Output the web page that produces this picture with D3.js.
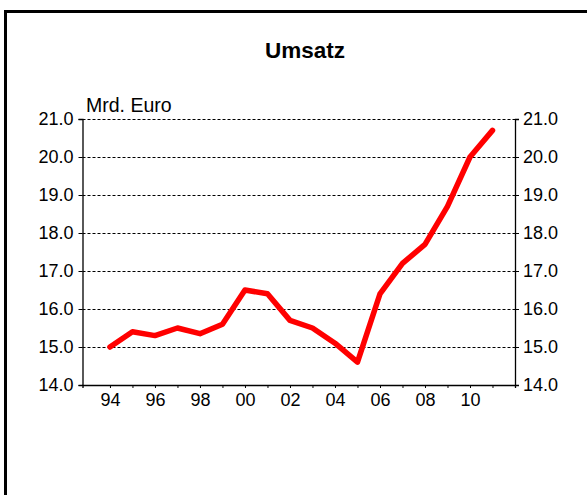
<!DOCTYPE html>
<html>
<head>
<meta charset="utf-8">
<script src="https://cdn.jsdelivr.net/npm/d3@7"></script>
<style>
  body { margin: 0; background: #fff; }
  svg text { font-family: "Liberation Sans", Arial, sans-serif; fill: #000; }
</style>
</head>
<body>
<div id="chart"></div>
<script>
// data (Mrd. Euro)
var years = [1994, 1995, 1996, 1997, 1998, 1999, 2000, 2001, 2002, 2003, 2004, 2005, 2006, 2007, 2008, 2009, 2010, 2011];
var umsatz = [15.0, 15.4, 15.3, 15.5, 15.35, 15.6, 16.5, 16.4, 15.7, 15.5, 15.1, 14.6, 16.4, 17.2, 17.7, 18.7, 20.0, 20.7];
var yTicks = [14, 15, 16, 17, 18, 19, 20, 21];
var xLabelYears = [1994, 1996, 1998, 2000, 2002, 2004, 2006, 2008, 2010];

var W = 587, H = 495;
var margin = {top: 119, right: 72, bottom: 110, left: 82.5};
var width = W - margin.left - margin.right;
var height = H - margin.top - margin.bottom;

var root = d3.select("#chart")
  .append("svg")
  .attr("width", W)
  .attr("height", H);

// outer frame (runs past the right and bottom edges)
root.append("rect")
  .attr("x", 5.5).attr("y", 11.5)
  .attr("width", 700).attr("height", 600)
  .attr("fill", "none")
  .attr("stroke", "#000")
  .attr("stroke-width", 3);

root.append("text")
  .attr("x", 305).attr("y", 58)
  .attr("text-anchor", "middle")
  .attr("font-size", 22.5)
  .attr("font-weight", "bold")
  .text("Umsatz");

const svg = root.append("g")
  .attr("transform", `translate(${margin.left}, ${margin.top})`);

const x = d3.scaleLinear()
  .domain([1992.78, 2012])
  .range([0, width]);

const y = d3.scaleLinear()
  .domain([14, 21])
  .range([height, 0]);

// dashed grid
svg.append("g")
  .selectAll("line")
  .data(yTicks.filter(d => d > 14))
  .join("line")
  .attr("x1", 0)
  .attr("x2", width)
  .attr("y1", d => Math.round(y(d)) + 0.5)
  .attr("y2", d => Math.round(y(d)) + 0.5)
  .attr("stroke", "#000")
  .attr("stroke-width", 1)
  .attr("stroke-dasharray", "3,2");

// left axis
const yLeft = svg.append("g")
  .call(d3.axisLeft(y).tickValues(yTicks).tickFormat(d3.format(".1f")).tickSize(4).tickPadding(5));
// right axis
const yRight = svg.append("g")
  .attr("transform", `translate(${width}, 0)`)
  .call(d3.axisRight(y).tickValues(yTicks).tickFormat(d3.format(".1f")).tickSize(4).tickPadding(4));
// bottom axis
const xAxis = svg.append("g")
  .attr("transform", `translate(0, ${height})`)
  .call(d3.axisBottom(x).tickValues(years).tickSize(3).tickPadding(5)
    .tickFormat(d => xLabelYears.includes(d) ? d3.format("02d")(d % 100) : ""));

[yLeft, yRight, xAxis].forEach(function(g){
  g.select(".domain").attr("stroke", "#000").attr("stroke-width", 1.3);
  g.selectAll(".tick line").attr("stroke", "#000");
  g.selectAll("text").attr("font-size", 18).attr("font-family", null).attr("fill", "#000");
});

// unit label
svg.append("text")
  .attr("x", 3.5)
  .attr("y", -7)
  .attr("font-size", 19.5)
  .text("Mrd. Euro");

// line
const line = d3.line()
  .x((d, i) => x(years[i]))
  .y(d => y(d));

svg.append("path")
  .datum(umsatz)
  .attr("fill", "none")
  .attr("stroke", "#ff0000")
  .attr("stroke-width", 5.5)
  .attr("stroke-linejoin", "round")
  .attr("stroke-linecap", "round")
  .attr("d", line);
</script>
</body>
</html>
